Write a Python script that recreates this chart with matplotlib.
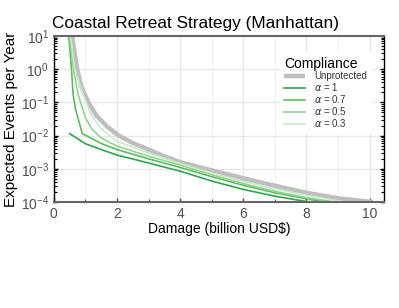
import matplotlib
matplotlib.use("Agg")
import matplotlib.pyplot as plt
from matplotlib.ticker import LogLocator, MultipleLocator, NullFormatter

plt.rcParams['font.family'] = ['Liberation Sans', 'DejaVu Sans']
plt.rcParams['mathtext.fontset'] = 'custom'
plt.rcParams['mathtext.rm'] = 'Liberation Sans'

# Unprotected
unprot_x = [0.58, 0.66, 0.74, 0.87, 1.09, 1.35, 1.68, 2.05, 2.5, 3.0, 3.5, 4.0, 5.0, 6.0, 7.0, 8.0, 9.0, 10.1]
unprot_y = [10, 3, 1, 0.3, 0.1, 0.04, 0.019, 0.01, 6e-3, 3.8e-3, 2.4e-3, 1.6e-3, 9e-4, 5.2e-4, 3.1e-4, 1.9e-4, 1.3e-4, 1e-4]

# alpha = 1
a10_x = [0.5, 1.0, 1.5, 2.0, 3.0, 4.0, 5.0, 6.0, 7.0, 8.1]
a10_y = [0.0115, 5.7e-3, 3.8e-3, 2.6e-3, 1.5e-3, 8.5e-4, 4.3e-4, 2.4e-4, 1.5e-4, 1e-4]

# alpha = 0.7
a07_x = [0.47, 0.56, 0.61, 0.69, 0.9, 1.5, 2.0, 3.0, 4.0, 5.0, 6.0, 7.0, 8.0, 8.6]
a07_y = [10, 1, 0.17, 0.06, 0.0115, 5.8e-3, 3.8e-3, 2.0e-3, 1.1e-3, 5.8e-4, 3.2e-4, 1.9e-4, 1.25e-4, 1e-4]

# alpha = 0.5
a05_x = [0.5, 0.62, 0.77, 1.0, 1.2, 1.5, 2.0, 3.0, 4.0, 5.0, 6.0, 7.0, 8.0, 8.9]
a05_y = [10, 1, 0.17, 0.035, 0.016, 8.5e-3, 4.8e-3, 2.4e-3, 1.3e-3, 6.6e-4, 3.6e-4, 2.1e-4, 1.35e-4, 1e-4]

# alpha = 0.3
a03_x = [0.53, 0.66, 0.93, 1.2, 1.5, 2.0, 3.0, 4.0, 5.0, 6.0, 7.0, 8.0, 9.0, 9.3]
a03_y = [10, 1, 0.17, 0.04, 0.016, 6.8e-3, 3.0e-3, 1.45e-3, 7.5e-4, 4.2e-4, 2.5e-4, 1.6e-4, 1.1e-4, 1e-4]

labels = ['Unprotected', r'$\alpha$ = 1', r'$\alpha$ = 0.7', r'$\alpha$ = 0.5', r'$\alpha$ = 0.3']
colors = ['#bebebe', '#31a354', '#5cbd5c', '#8fd48f', '#c7eac7']

fig = plt.figure(figsize=(3.99, 3.08), dpi=100)
ax = fig.add_axes([0.135, 0.344, 0.827, 0.539])

ax.plot(unprot_x, unprot_y, color=colors[0], lw=3.2, label=labels[0], solid_capstyle='butt')
ax.plot(a10_x, a10_y, color=colors[1], lw=1.2, label=labels[1])
ax.plot(a07_x, a07_y, color=colors[2], lw=1.2, label=labels[2])
ax.plot(a05_x, a05_y, color=colors[3], lw=1.2, label=labels[3])
ax.plot(a03_x, a03_y, color=colors[4], lw=1.2, label=labels[4])

ax.set_yscale('log')
ax.set_xlim(0, 10.45)
ax.set_ylim(1e-4, 10)
ax.xaxis.set_major_locator(MultipleLocator(2))
ax.xaxis.set_minor_locator(MultipleLocator(1))
ax.yaxis.set_major_locator(LogLocator(base=10, numticks=10))
ax.yaxis.set_minor_locator(LogLocator(base=10, subs=range(2, 10), numticks=20))
ax.yaxis.set_minor_formatter(NullFormatter())

ax.grid(True, which='major', color='#e8e8e8', lw=1.0)
ax.grid(True, which='minor', axis='x', color='#f2f2f2', lw=0.8)
ax.set_axisbelow(True)

ax.tick_params(which='both', direction='in', right=True, labelcolor='#4d4d4d', labelsize=10)
ax.tick_params(which='major', length=3, width=1.0, color='black')
ax.tick_params(which='minor', length=2, width=0.8, color='black')
ax.tick_params(axis='x', which='both', color='#555555')

for s in ['top', 'bottom']:
    ax.spines[s].set_color('#666666')
    ax.spines[s].set_linewidth(1.5)
for s in ['left', 'right']:
    ax.spines[s].set_color('black')
    ax.spines[s].set_linewidth(1.0)

ax.set_title('Coastal Retreat Strategy (Manhattan)', loc='left', fontsize=12.4, pad=6, x=-0.005)
ax.set_xlabel('Damage (billion USD$)', fontsize=10, labelpad=1)
ax.set_ylabel('Expected Events per Year', fontsize=11, labelpad=2)

leg = ax.legend(loc='upper right', bbox_to_anchor=(0.975, 0.925), title='Compliance',
                fontsize=7, title_fontsize=10, frameon=True, fancybox=False,
                edgecolor='white', framealpha=1.0, handlelength=2.2,
                labelspacing=0.0, borderpad=0.4, handletextpad=0.9)
leg._legend_box.align = 'left'
for t in leg.get_texts():
    t.set_color('#333333')

fig.savefig('out.png', dpi=100)
